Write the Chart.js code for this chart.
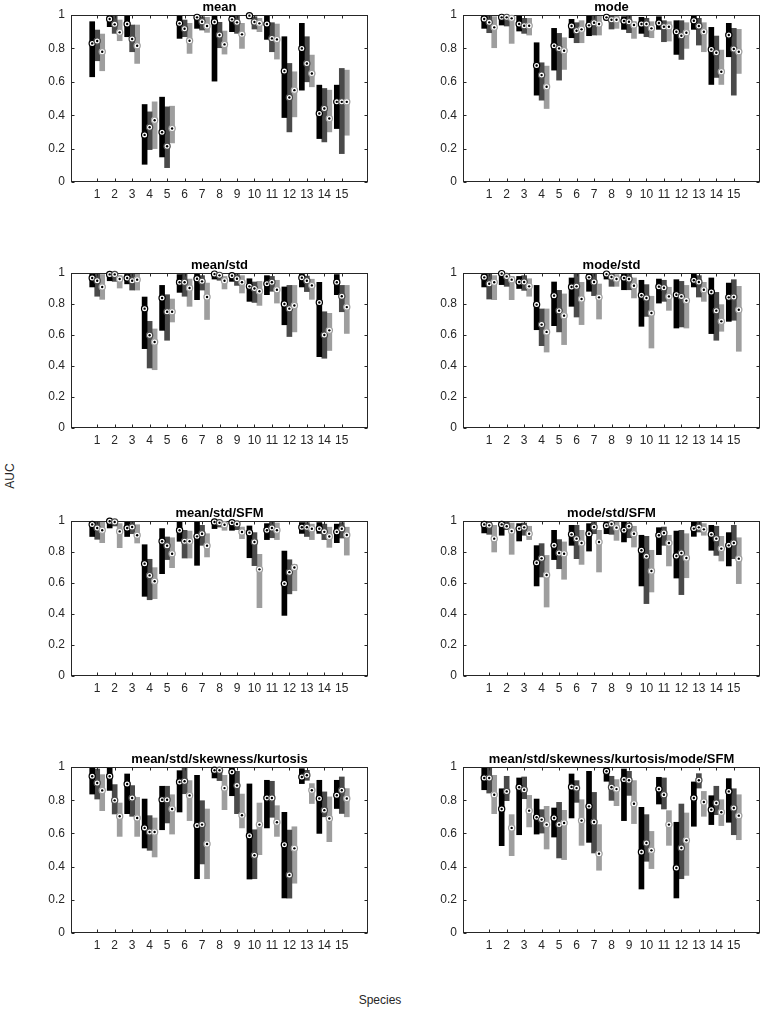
<!DOCTYPE html>
<html>
<head>
<meta charset="utf-8">
<script src="https://cdn.jsdelivr.net/npm/chart.js@4.4.0/dist/chart.umd.min.js"></script>
<style>
  body { margin: 0; background: #fff; width: 761px; height: 1011px; position: relative; overflow: hidden;
         font-family: "Liberation Sans", Arial, Helvetica, sans-serif; }
  .panel { position: absolute; }
  .ttl { position: absolute; font-weight: bold; font-size: 13px; color: #000; transform: translate(-50%, -50%); white-space: nowrap; }
  .lbl { position: absolute; font-size: 12px; color: #262626; white-space: nowrap; }
</style>
</head>
<body>
<script>
// species on the x axis
const species = [1, 2, 3, 4, 5, 6, 7, 8, 9, 10, 11, 12, 13, 14, 15];
const yTicks = [0, 0.2, 0.4, 0.6, 0.8, 1];
const titles = ['mean', 'mode', 'mean/std', 'mode/std', 'mean/std/SFM', 'mode/std/SFM',
  'mean/std/skewness/kurtosis', 'mean/std/skewness/kurtosis/mode/SFM'];

// each entry: [low, high, median] AUC per species
// K = black, D = dark grey, L = light grey
const meanK = [[0.63,0.96,0.83],[0.93,1,0.976],[0.87,1,0.946],[0.106,0.464,0.282],[0.15,0.508,0.298],[0.86,1,0.95],[0.92,1,0.986],[0.604,1,0.958],[0.9,1,0.974],[0.98,1,0.996],[0.854,1,0.946],[0.386,0.87,0.664],[0.55,0.95,0.8],[0.26,0.58,0.41],[0.32,0.58,0.48]];
const meanD = [[0.726,0.91,0.844],[0.89,1,0.944],[0.78,0.94,0.856],[0.194,0.42,0.328],[0.086,0.45,0.214],[0.87,0.97,0.918],[0.91,0.99,0.96],[0.804,0.956,0.88],[0.89,1,0.956],[0.916,0.99,0.958],[0.78,0.954,0.86],[0.3,0.71,0.506],[0.6,0.87,0.71],[0.24,0.56,0.44],[0.17,0.68,0.48]];
const meanL = [[0.666,0.886,0.78],[0.846,0.97,0.896],[0.71,0.94,0.816],[0.2,0.48,0.37],[0.234,0.454,0.32],[0.77,0.95,0.846],[0.896,0.986,0.934],[0.766,0.904,0.824],[0.8,0.95,0.884],[0.9,0.98,0.95],[0.736,0.946,0.854],[0.39,0.66,0.55],[0.57,0.76,0.65],[0.3,0.55,0.38],[0.28,0.67,0.48]];

const modeK = [[0.92,1,0.976],[0.94,1,0.986],[0.904,1,0.946],[0.52,0.834,0.698],[0.67,0.92,0.816],[0.864,0.974,0.934],[0.876,1,0.938],[0.97,1,0.986],[0.914,0.99,0.964],[0.89,0.986,0.946],[0.914,0.99,0.952],[0.764,0.966,0.9],[0.914,1,0.966],[0.584,0.926,0.794],[0.75,0.95,0.88]];
const modeD = [[0.894,1,0.956],[0.934,1,0.986],[0.89,0.98,0.936],[0.49,0.714,0.64],[0.61,0.89,0.8],[0.834,0.954,0.906],[0.88,1,0.954],[0.916,0.994,0.972],[0.894,1,0.96],[0.87,0.98,0.946],[0.84,0.966,0.93],[0.734,0.966,0.876],[0.82,0.98,0.934],[0.626,0.874,0.774],[0.52,0.92,0.796]];
const modeL = [[0.804,0.99,0.926],[0.83,1,0.98],[0.88,0.98,0.936],[0.44,0.694,0.57],[0.674,0.864,0.786],[0.834,0.966,0.914],[0.88,1,0.946],[0.92,0.994,0.972],[0.86,0.96,0.94],[0.864,0.96,0.92],[0.844,0.96,0.93],[0.8,0.954,0.894],[0.78,0.954,0.9],[0.584,0.79,0.66],[0.65,0.914,0.78]];

const meanStdK = [[0.91,1,0.968],[0.95,1,0.991],[0.93,1,0.968],[0.512,0.845,0.77],[0.63,0.92,0.839],[0.875,0.99,0.94],[0.828,1,0.963],[0.961,1,0.993],[0.946,1,0.983],[0.817,0.963,0.914],[0.86,0.983,0.931],[0.666,0.91,0.8],[0.91,1,0.97],[0.46,0.94,0.81],[0.86,0.99,0.94]];
const meanStdD = [[0.85,1,0.95],[0.946,1,0.991],[0.89,1,0.95],[0.387,0.688,0.598],[0.566,0.86,0.75],[0.85,1,0.94],[0.89,0.983,0.946],[0.953,1,0.985],[0.92,0.99,0.963],[0.81,0.942,0.9],[0.882,0.978,0.94],[0.59,0.92,0.77],[0.88,0.98,0.95],[0.45,0.75,0.6],[0.75,0.92,0.85]];
const meanStdL = [[0.83,0.99,0.91],[0.903,0.983,0.961],[0.89,1,0.957],[0.376,0.639,0.555],[0.684,0.832,0.75],[0.785,0.961,0.903],[0.7,0.935,0.845],[0.897,0.978,0.95],[0.871,0.983,0.94],[0.791,0.946,0.882],[0.806,0.953,0.892],[0.62,0.92,0.79],[0.83,0.96,0.92],[0.5,0.74,0.63],[0.61,0.92,0.78]];

const modeStdK = [[0.91,1,0.972],[0.925,1,0.996],[0.9,0.978,0.942],[0.634,0.92,0.796],[0.66,0.942,0.854],[0.785,0.968,0.91],[0.882,1,0.972],[0.961,1,0.993],[0.892,1,0.968],[0.656,0.953,0.856],[0.806,0.961,0.912],[0.645,0.957,0.86],[0.91,1,0.953],[0.609,0.968,0.877],[0.688,0.935,0.843]];
const modeStdD = [[0.832,1,0.931],[0.914,0.994,0.978],[0.888,0.983,0.942],[0.531,0.768,0.667],[0.62,0.888,0.757],[0.716,1,0.914],[0.854,1,0.942],[0.914,1,0.974],[0.892,1,0.961],[0.72,0.925,0.839],[0.817,0.953,0.905],[0.652,0.946,0.849],[0.845,0.983,0.942],[0.566,0.875,0.757],[0.695,0.957,0.845]];
const modeStdL = [[0.828,0.983,0.94],[0.828,0.978,0.957],[0.85,0.963,0.914],[0.49,0.768,0.62],[0.538,0.865,0.725],[0.667,0.94,0.832],[0.703,0.929,0.843],[0.914,0.99,0.961],[0.839,0.968,0.918],[0.516,0.85,0.742],[0.759,0.908,0.849],[0.645,0.92,0.822],[0.817,0.94,0.892],[0.624,0.796,0.688],[0.495,0.914,0.763]];

const meanStdSfmK = [[0.9,1,0.978],[0.955,1,0.998],[0.9,1,0.955],[0.514,0.847,0.725],[0.66,0.951,0.869],[0.869,1,0.94],[0.714,0.994,0.901],[0.951,1,0.994],[0.94,1,0.989],[0.763,0.968,0.925],[0.88,0.983,0.94],[0.391,0.806,0.596],[0.92,0.99,0.96],[0.92,0.99,0.95],[0.86,0.98,0.93]];
const meanStdSfmD = [[0.882,1,0.955],[0.968,1,0.994],[0.918,1,0.961],[0.492,0.753,0.649],[0.751,0.897,0.841],[0.761,0.94,0.869],[0.843,0.972,0.918],[0.961,1,0.989],[0.944,1,0.981],[0.712,0.925,0.865],[0.892,0.994,0.955],[0.53,0.75,0.67],[0.9,0.99,0.96],[0.88,0.98,0.93],[0.89,0.99,0.95]];
const meanStdSfmL = [[0.86,1,0.94],[0.828,0.983,0.933],[0.858,0.976,0.908],[0.499,0.699,0.611],[0.699,0.892,0.789],[0.761,0.935,0.869],[0.768,0.918,0.841],[0.94,1,0.976],[0.886,0.961,0.929],[0.441,0.785,0.688],[0.88,0.987,0.94],[0.55,0.72,0.7],[0.88,0.98,0.95],[0.83,0.96,0.9],[0.78,0.96,0.91]];

const modeStdSfmK = [[0.923,1,0.978],[0.908,1,0.978],[0.871,0.983,0.951],[0.581,0.841,0.731],[0.751,0.94,0.843],[0.843,0.972,0.914],[0.806,0.983,0.918],[0.918,1,0.97],[0.865,1,0.94],[0.581,0.908,0.811],[0.783,0.957,0.908],[0.632,0.935,0.774],[0.901,0.994,0.951],[0.811,0.972,0.914],[0.71,0.925,0.843]];
const modeStdSfmD = [[0.914,1,0.972],[0.944,0.994,0.966],[0.908,0.987,0.959],[0.639,0.854,0.759],[0.692,0.88,0.794],[0.757,0.972,0.886],[0.918,1,0.961],[0.914,1,0.981],[0.892,0.987,0.966],[0.467,0.901,0.772],[0.843,0.961,0.923],[0.525,0.94,0.794],[0.929,1,0.959],[0.778,0.966,0.886],[0.757,0.972,0.858]];
const modeStdSfmL = [[0.8,0.972,0.886],[0.785,0.987,0.935],[0.88,0.966,0.918],[0.445,0.778,0.652],[0.624,0.865,0.789],[0.72,0.94,0.858],[0.671,0.94,0.865],[0.875,0.994,0.957],[0.832,0.966,0.918],[0.542,0.811,0.677],[0.71,0.908,0.858],[0.634,0.918,0.761],[0.908,0.983,0.946],[0.742,0.901,0.822],[0.596,0.892,0.757]];

const skewKurtK = [[0.837,1,0.944],[0.859,0.994,0.944],[0.719,0.958,0.898],[0.512,0.807,0.633],[0.622,0.884,0.803],[0.729,0.978,0.91],[0.327,0.95,0.647],[0.934,1,0.98],[0.827,1,0.97],[0.325,0.898,0.586],[0.633,0.92,0.813],[0.211,0.727,0.532],[0.9,0.99,0.94],[0.6,0.92,0.81],[0.75,0.92,0.83]];
const skewKurtD = [[0.807,0.988,0.904],[0.717,0.894,0.799],[0.703,0.888,0.813],[0.498,0.707,0.608],[0.663,0.884,0.803],[0.839,0.994,0.914],[0.416,0.797,0.653],[0.918,1,0.98],[0.719,0.974,0.888],[0.327,0.622,0.468],[0.697,0.914,0.813],[0.21,0.62,0.35],[0.92,0.98,0.95],[0.7,0.85,0.74],[0.72,0.94,0.86]];
const skewKurtL = [[0.737,0.954,0.859],[0.582,0.783,0.703],[0.582,0.817,0.693],[0.458,0.693,0.608],[0.596,0.833,0.747],[0.677,0.918,0.829],[0.327,0.747,0.536],[0.743,0.95,0.873],[0.633,0.837,0.709],[0.472,0.783,0.653],[0.582,0.767,0.667],[0.3,0.64,0.51],[0.78,0.9,0.86],[0.55,0.82,0.69],[0.7,0.87,0.81]];

const allSixK = [[0.863,1,0.934],[0.526,0.869,0.747],[0.592,0.934,0.878],[0.596,0.807,0.697],[0.578,0.753,0.693],[0.693,0.958,0.88],[0.546,0.974,0.763],[0.914,1,0.974],[0.677,0.988,0.924],[0.265,0.757,0.488],[0.777,0.938,0.867],[0.211,0.667,0.392],[0.643,0.91,0.813],[0.653,0.827,0.743],[0.667,0.93,0.853]];
const allSixD = [[0.843,1,0.934],[0.797,0.944,0.853],[0.809,0.94,0.863],[0.602,0.743,0.683],[0.452,0.787,0.653],[0.787,0.918,0.873],[0.482,0.847,0.669],[0.799,0.944,0.878],[0.829,0.974,0.92],[0.432,0.713,0.542],[0.747,0.934,0.833],[0.327,0.777,0.512],[0.873,0.96,0.92],[0.713,0.884,0.783],[0.592,0.869,0.753]];
const allSixL = [[0.719,0.95,0.833],[0.466,0.713,0.633],[0.639,0.829,0.737],[0.506,0.763,0.653],[0.442,0.739,0.663],[0.528,0.803,0.677],[0.378,0.653,0.478],[0.767,0.924,0.867],[0.659,0.918,0.779],[0.388,0.612,0.498],[0.528,0.737,0.653],[0.347,0.723,0.558],[0.703,0.853,0.789],[0.647,0.803,0.727],[0.562,0.833,0.707]];

const panels = [
  [meanK, meanD, meanL], [modeK, modeD, modeL],
  [meanStdK, meanStdD, meanStdL], [modeStdK, modeStdD, modeStdL],
  [meanStdSfmK, meanStdSfmD, meanStdSfmL], [modeStdSfmK, modeStdSfmD, modeStdSfmL],
  [skewKurtK, skewKurtD, skewKurtL], [allSixK, allSixD, allSixL]
];
const barColors = ['#000000', '#4a4a4a', '#9e9e9e'];

// layout of the 4x2 grid (plot areas in page pixels)
const colLeft = [71, 463];
const plotW = 297;
const rowTopBottom = [[15, 182], [273, 428], [521, 676], [767, 933]];
const padL = 45, padT = 15, padB = 24, padR = 1;
const fontFam = '"Liberation Sans", Arial, Helvetica, sans-serif';

// frame, inward ticks and median markers
const boxPlugin = {
  id: 'boxFrame',
  afterDatasetsDraw(chart) {
    const ctx = chart.ctx;
    const a = chart.chartArea;
    const xs = chart.scales.x, ys = chart.scales.y;
    const L = Math.round(a.left) + 0.5, R = Math.round(a.right) - 0.5;
    const T = Math.round(a.top) + 0.5, B = Math.round(a.bottom) - 0.5;
    ctx.save();
    ctx.strokeStyle = '#262626';
    ctx.lineWidth = 1;
    ctx.strokeRect(L, T, R - L, B - T);
    ctx.beginPath();
    xs.ticks.forEach(t => {
      if (t.value < 1 || t.value > 15) return;
      const px = Math.round(xs.getPixelForValue(t.value)) + 0.5;
      ctx.moveTo(px, B); ctx.lineTo(px, B - 3);
      ctx.moveTo(px, T); ctx.lineTo(px, T + 3);
    });
    ys.ticks.forEach(t => {
      const py = Math.round(ys.getPixelForValue(t.value)) + 0.5;
      ctx.moveTo(L, py); ctx.lineTo(L + 3, py);
      ctx.moveTo(R, py); ctx.lineTo(R - 3, py);
    });
    ctx.stroke();

    chart.data.datasets.forEach((ds, k) => {
      const meta = chart.getDatasetMeta(k);
      ds.medians.forEach((m, i) => {
        const px = meta.data[i].x;
        const py = ys.getPixelForValue(m);
        ctx.beginPath();
        ctx.arc(px, py, 3.1, 0, Math.PI * 2);
        ctx.fillStyle = '#ffffff';
        ctx.fill();
        ctx.strokeStyle = barColors[k];
        ctx.lineWidth = 1.2;
        ctx.stroke();
        ctx.beginPath();
        ctx.arc(px, py, 1.2, 0, Math.PI * 2);
        ctx.fillStyle = '#000000';
        ctx.fill();
      });
    });
    ctx.restore();
  }
};

panels.forEach((series, p) => {
  const col = p % 2, row = Math.floor(p / 2);
  const [top, bottom] = rowTopBottom[row];
  const plotH = bottom - top;
  const w = padL + plotW + padR, h = padT + plotH + padB;

  const div = document.createElement('div');
  div.className = 'panel';
  div.style.left = (colLeft[col] - padL) + 'px';
  div.style.top = (top - padT) + 'px';
  const cv = document.createElement('canvas');
  cv.width = w; cv.height = h;
  cv.style.width = w + 'px'; cv.style.height = h + 'px';
  div.appendChild(cv);
  document.body.appendChild(div);

  const t = document.createElement('div');
  t.className = 'ttl';
  t.textContent = titles[p];
  t.style.left = (colLeft[col] + plotW / 2) + 'px';
  t.style.top = (top - 9) + 'px';
  document.body.appendChild(t);

  new Chart(cv.getContext('2d'), {
    type: 'bar',
    data: {
      datasets: series.map((s, k) => ({
        data: species.map((sp, i) => ({ x: sp, y: [s[i][0], s[i][1]] })),
        medians: s.map(v => v[2]),
        backgroundColor: barColors[k],
        borderWidth: 0,
        barThickness: 5
      }))
    },
    options: {
      responsive: false,
      animation: false,
      layout: { padding: { top: padT, right: padR, left: 0, bottom: 0 } },
      plugins: { legend: { display: false }, tooltip: { enabled: false } },
      scales: {
        x: {
          type: 'linear', min: 0, max: 16,
          afterFit: s => { s.height = padB; },
          grid: { display: false, drawTicks: false },
          border: { display: false },
          ticks: {
            stepSize: 1, autoSkip: false, maxRotation: 0, padding: 5,
            color: '#262626', font: { family: fontFam, size: 12 },
            callback: v => (species.includes(v) ? String(v) : '')
          }
        },
        y: {
          min: 0, max: 1,
          afterFit: s => { s.width = padL; },
          afterBuildTicks: s => { s.ticks = yTicks.map(v => ({ value: v })); },
          grid: { display: false, drawTicks: false },
          border: { display: false },
          ticks: {
            padding: 6, color: '#262626', font: { family: fontFam, size: 12 },
            callback: v => String(v)
          }
        }
      }
    },
    plugins: [boxPlugin]
  });
});

// shared axis labels
const yl = document.createElement('div');
yl.className = 'lbl';
yl.textContent = 'AUC';
yl.style.left = '10px'; yl.style.top = '476px';
yl.style.transform = 'translate(-50%, -50%) rotate(-90deg)';
document.body.appendChild(yl);

const xl = document.createElement('div');
xl.className = 'lbl';
xl.textContent = 'Species';
xl.style.left = '380px'; xl.style.top = '1000px';
xl.style.transform = 'translate(-50%, -50%)';
document.body.appendChild(xl);
</script>
</body>
</html>
